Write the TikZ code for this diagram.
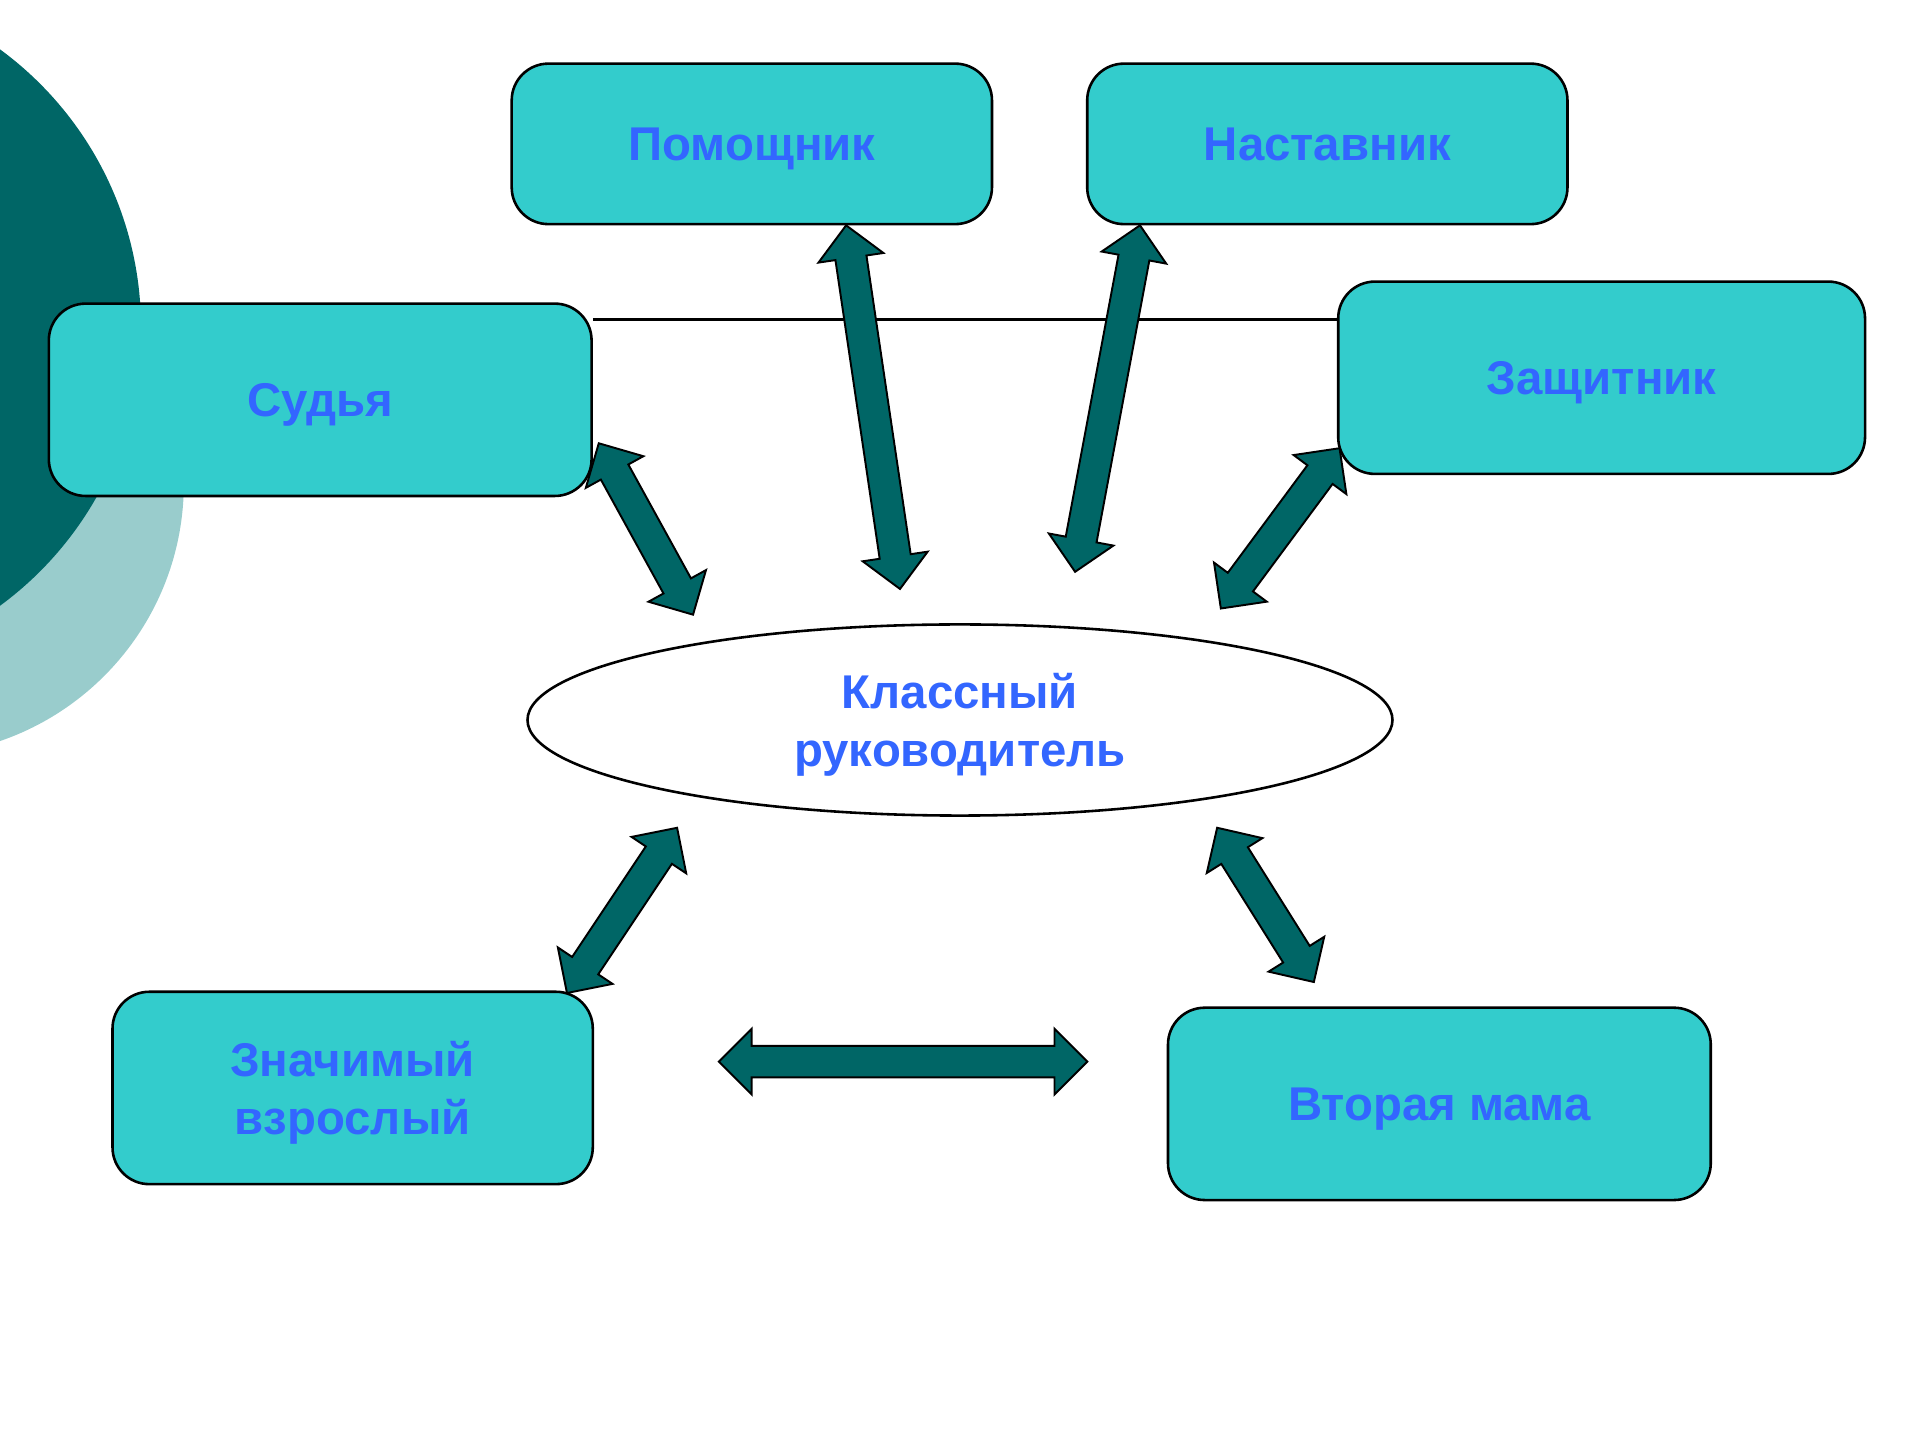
\documentclass[tikz,border=0pt]{standalone}
\usepackage{fontspec}
\setmainfont{Liberation Sans}
\usetikzlibrary{calc,shapes.geometric,shapes.arrows}
\definecolor{boxfill}{HTML}{33CCCC}
\definecolor{textblue}{HTML}{3366FF}
\definecolor{darkteal}{HTML}{006666}
\definecolor{paleteal}{HTML}{99CCCC}

\begin{document}
\begin{tikzpicture}[
    x=0.01cm, y=-0.01cm,
    role/.style={draw, line width=0.6pt, fill=boxfill, rounded corners=0.3cm,
      text=textblue, font=\bfseries\fontsize{11}{13.3}\selectfont,
      align=center, inner sep=0pt, text depth=0pt},
    leader/.style={ellipse, draw, line width=0.6pt, fill=white,
      text=textblue, font=\bfseries\fontsize{11}{13.3}\selectfont,
      align=center, inner sep=0pt, text depth=0pt},
    link/.style={double arrow, draw, line width=0.45pt, fill=darkteal,
      minimum width=0.52cm, double arrow head extend=0.14cm,
      double arrow tip angle=90, inner sep=0.12cm, outer sep=0pt},
  ]
  \useasboundingbox (0,0) rectangle (1568,1176);
  \begin{scope}
    \clip (0,0) rectangle (1568,1176);
    \fill[paleteal] (-72,395) circle (2.22cm);
    \fill[darkteal] (-166.5,267.5) circle (2.815cm);
  \end{scope}

  \node[role, minimum width=3.92cm, minimum height=1.31cm] (pom) at (614,117.5) {Помощник};
  \node[role, minimum width=3.92cm, minimum height=1.31cm] (nas) at (1084,117.5) {Наставник};
  \node[role, minimum width=4.43cm, minimum height=1.57cm] (sud) at (261.5,326.5) {Судья};
  \node[role, minimum width=4.30cm, minimum height=1.57cm] (zas) at (1308,308.5) {Защитник};
  \node[role, minimum width=3.92cm, minimum height=1.57cm] (vzr) at (288,888.5) {Значимый\\взрослый};
  \node[role, minimum width=4.43cm, minimum height=1.57cm] (mam) at (1175.5,901.5) {Вторая мама};
  \node[leader, minimum width=7.06cm, minimum height=1.56cm] (kl) at (784,588) {Классный\\руководитель};

  \draw[line width=0.6pt] (sud.east |- 0,261) -- (zas.west |- 0,261);

  \coordinate (sud-a) at (489,362);  \coordinate (sud-b) at (566,502);
  \coordinate (pom-a) at (691,184);  \coordinate (pom-b) at (735,481);
  \coordinate (nas-a) at (931,184);  \coordinate (nas-b) at (878,467);
  \coordinate (zas-a) at (1094,366); \coordinate (zas-b) at (997,497);
  \coordinate (vzr-a) at (553,676);  \coordinate (vzr-b) at (463,811);
  \coordinate (mam-a) at (994,676);  \coordinate (mam-b) at (1073,802);
  \coordinate (mid-a) at (587,867);  \coordinate (mid-b) at (888,867);

  \foreach \a/\b in {sud-a/sud-b, pom-a/pom-b, nas-a/nas-b, zas-a/zas-b,
                     vzr-a/vzr-b, mam-a/mam-b, mid-a/mid-b}
    \path let \p1=($(\b)-(\a)$), \n1={veclen(\x1,\y1)} in
      (\a) -- (\b) node[link, midway, sloped, minimum height=\n1] {};
\end{tikzpicture}
\end{document}
